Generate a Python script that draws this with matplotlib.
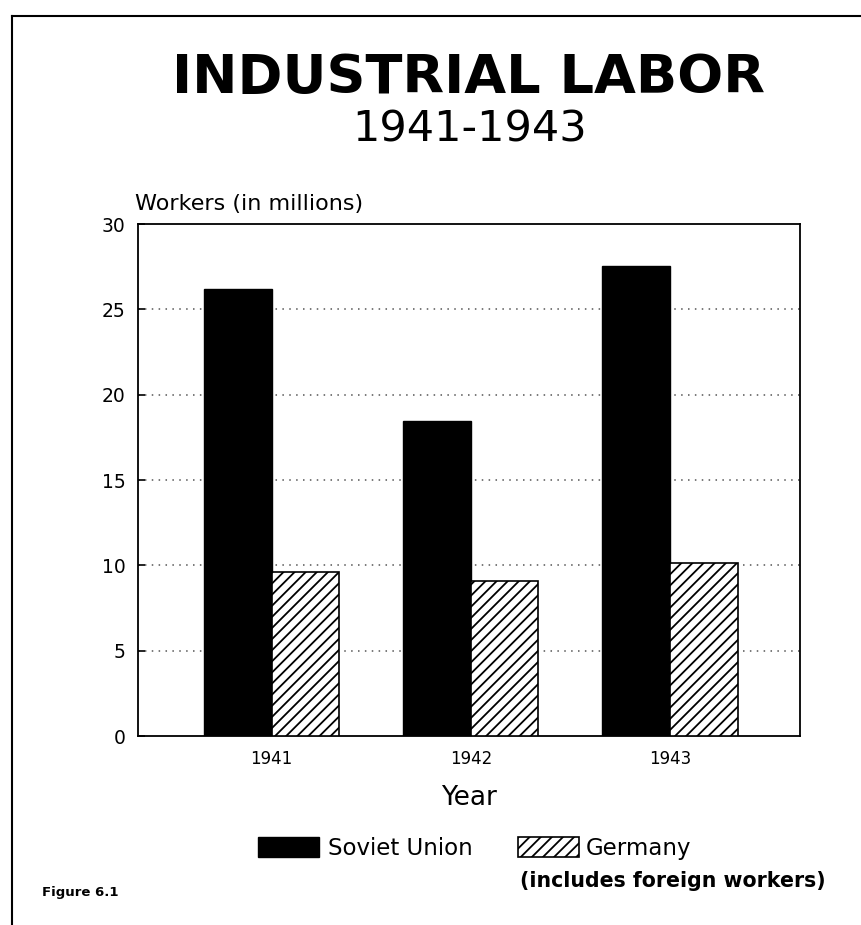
import numpy as np
import matplotlib.pyplot as plt
from matplotlib.patches import Rectangle
from matplotlib.lines import Line2D

years = ["1941", "1942", "1943"]
soviet = [26.2, 18.45, 27.55]
germany = [9.6, 9.1, 10.15]
yticks = [0, 5, 10, 15, 20, 25, 30]

plt.rcParams['font.family'] = ['DejaVu Sans']
plt.rcParams['hatch.linewidth'] = 1.3

fig = plt.figure(figsize=(8.61, 9.25), dpi=100)
ax = fig.add_axes([0.160, 0.2043, 0.769, 0.5535])

x = np.arange(len(years))
w = 0.34
ax.bar(x - w / 2, soviet, w, color="black", edgecolor="black", linewidth=1, zorder=3)
ax.bar(x + w / 2, germany, w, color="white", edgecolor="black", hatch="///", linewidth=1.2, zorder=3)

ax.set_xlim(-0.673, 2.653)
ax.set_ylim(0, 30)
ax.set_yticks(yticks)
ax.set_yticklabels([str(t) for t in yticks], fontsize=13.5)
ax.set_xticks(x)
ax.set_xticklabels(years, fontsize=12)
ax.tick_params(axis="y", direction="in", length=5, width=1.2, pad=9)
ax.tick_params(axis="x", length=0, pad=10)
for t in yticks[1:-1]:
    ax.axhline(t, color="#555555", linestyle=(0, (1, 3.5)), linewidth=1.1, zorder=1)
for s in ax.spines.values():
    s.set_linewidth(1.3)

ax.set_xlabel("Year", fontsize=19, labelpad=12)
fig.text(0.157, 0.769, "Workers (in millions)", fontsize=16, ha="left", va="bottom")

fig.text(0.544, 0.916, "INDUSTRIAL LABOR", fontsize=39, fontweight="bold", ha="center", va="center")
fig.text(0.545, 0.860, "1941-1943", fontsize=31, ha="center", va="center")

# legend drawn in figure coords
fig.patches.append(Rectangle((0.300, 0.073), 0.070, 0.0216, transform=fig.transFigure,
                             facecolor="black", edgecolor="black"))
fig.text(0.381, 0.083, "Soviet Union", fontsize=16.5, ha="left", va="center")
fig.patches.append(Rectangle((0.602, 0.073), 0.070, 0.0216, transform=fig.transFigure,
                             facecolor="white", edgecolor="black", hatch="///", linewidth=1.2))
fig.text(0.680, 0.083, "Germany", fontsize=16.5, ha="left", va="center")
fig.text(0.604, 0.048, "(includes foreign workers)", fontsize=14.8, fontweight="bold", ha="left", va="center")
fig.text(0.049, 0.035, "Figure 6.1", fontsize=9.5, fontweight="bold", ha="left", va="center")

# page frame: left and top edges
fig.add_artist(Line2D([0.014, 0.014], [0.0, 0.983], transform=fig.transFigure, color="black", linewidth=1.5))
fig.add_artist(Line2D([0.014, 1.0], [0.983, 0.983], transform=fig.transFigure, color="black", linewidth=1.5))

fig.savefig("out.png", dpi=100)
